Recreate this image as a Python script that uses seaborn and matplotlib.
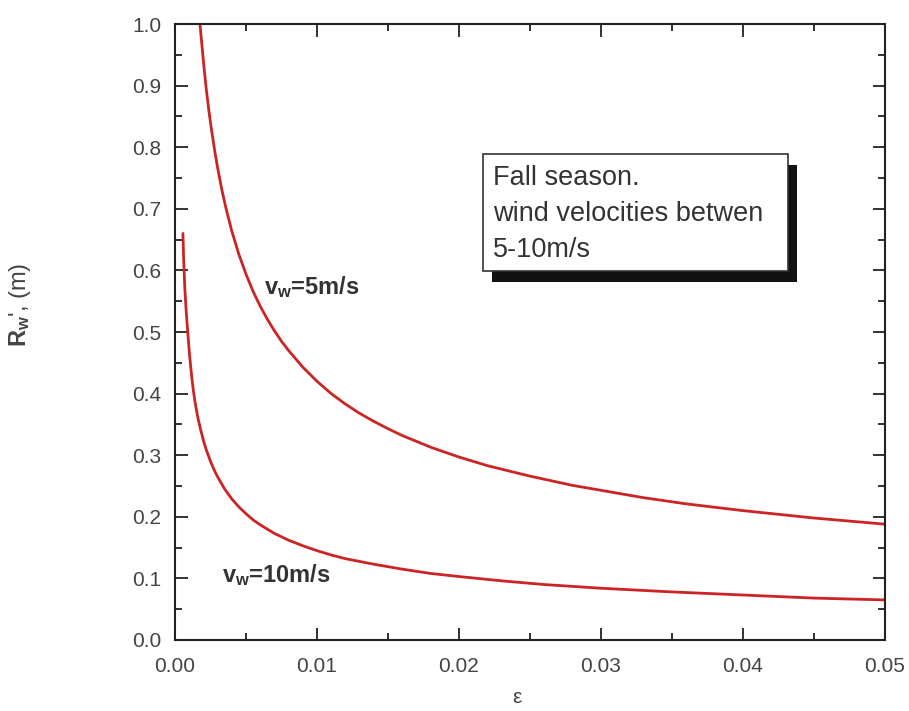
import numpy as np
import pandas as pd
import matplotlib.pyplot as plt
import matplotlib.patches as patches
from matplotlib.ticker import MultipleLocator, FormatStrFormatter
import seaborn as sns

# values
eps_5 = [0.00176, 0.0019, 0.002, 0.0022, 0.0024, 0.0026, 0.0028, 0.003, 0.0033,
         0.0036, 0.004, 0.0045, 0.005, 0.0055, 0.006, 0.0065, 0.007, 0.0075,
         0.008, 0.009, 0.01, 0.011, 0.012, 0.013, 0.014, 0.015, 0.016, 0.018,
         0.02, 0.022, 0.025, 0.028, 0.03, 0.033, 0.036, 0.04, 0.045, 0.05]
r_5 = [1.0, 0.965, 0.94, 0.895, 0.857, 0.824, 0.794, 0.767, 0.731,
       0.70, 0.664, 0.626, 0.594, 0.566, 0.542, 0.521, 0.502, 0.485,
       0.47, 0.443, 0.42, 0.40, 0.383, 0.368, 0.355, 0.343, 0.332, 0.313,
       0.297, 0.283, 0.266, 0.251, 0.243, 0.231, 0.221, 0.21, 0.198, 0.188]

eps_10 = [0.00056, 0.0006, 0.00065, 0.0007, 0.0008, 0.0009, 0.001, 0.0011,
          0.0012, 0.0013, 0.0014, 0.0016, 0.0018, 0.002, 0.0022, 0.0025,
          0.0028, 0.003, 0.0035, 0.004, 0.0045, 0.005, 0.0055, 0.006, 0.007,
          0.008, 0.009, 0.01, 0.011, 0.012, 0.014, 0.016, 0.018, 0.02, 0.023,
          0.026, 0.03, 0.035, 0.04, 0.045, 0.05]
r_10 = [0.66, 0.625, 0.595, 0.568, 0.53, 0.50, 0.47, 0.445,
        0.423, 0.404, 0.388, 0.362, 0.342, 0.324, 0.309, 0.29,
        0.274, 0.265, 0.245, 0.229, 0.216, 0.205, 0.195, 0.187, 0.173,
        0.162, 0.153, 0.145, 0.138, 0.132, 0.123, 0.115, 0.108, 0.103, 0.096,
        0.09, 0.084, 0.078, 0.073, 0.068, 0.065]

box_lines = ['Fall season.', 'wind velocities betwen', '5-10m/s']

sns.set_style('ticks')
plt.rcParams['font.family'] = ['Liberation Sans', 'DejaVu Sans']
plt.rcParams['mathtext.fontset'] = 'custom'
plt.rcParams['mathtext.rm'] = 'Liberation Sans'
plt.rcParams['mathtext.bf'] = 'Liberation Sans:bold'

df = pd.concat([
    pd.DataFrame({'eps': eps_5, 'R': r_5, 'v': '5'}),
    pd.DataFrame({'eps': eps_10, 'R': r_10, 'v': '10'}),
])

fig = plt.figure(figsize=(9.09, 7.11), dpi=100)
ax = fig.add_axes([0.1925, 0.0999, 0.781, 0.8663])

sns.lineplot(data=df, x='eps', y='R', units='v', estimator=None,
             color='#cc2424', linewidth=2.0, ax=ax, legend=False)

ax.set_xlim(0, 0.05)
ax.set_ylim(0, 1.0)
ax.xaxis.set_major_locator(MultipleLocator(0.01))
ax.xaxis.set_minor_locator(MultipleLocator(0.005))
ax.yaxis.set_major_locator(MultipleLocator(0.1))
ax.yaxis.set_minor_locator(MultipleLocator(0.05))
ax.xaxis.set_major_formatter(FormatStrFormatter('%.2f'))
ax.yaxis.set_major_formatter(FormatStrFormatter('%.1f'))
ax.tick_params(which='both', direction='in', top=True, right=True,
               width=1.3, colors='#222222', labelcolor='#444444', labelsize=15)
ax.tick_params(which='major', length=9)
ax.tick_params(axis='x', which='major', pad=12)
ax.tick_params(axis='y', which='major', pad=10)
ax.tick_params(which='minor', length=5)
for s in ax.spines.values():
    s.set_linewidth(1.5)
    s.set_color('#222222')

ax.set_xlabel('ε', fontsize=15, color='#444444')
ax.xaxis.set_label_coords(0.482, -0.078)
ax.set_ylabel(r"$\mathbf{R_w}$', (m)", fontsize=17, color='#444444')
ax.yaxis.set_label_coords(-0.2, 0.545)

ax.text(0.0063, 0.573, r'$\mathbf{v_w}$=5m/s', fontsize=17, fontweight='bold',
        color='#333333', va='center')
ax.text(0.0033, 0.105, r'$\mathbf{v_w}$=10m/s', fontsize=17, fontweight='bold',
        color='#333333', va='center')

# boxed note with a drop shadow
bx0, by0, bw, bh = 0.434, 0.599, 0.429, 0.190
ax.add_patch(patches.Rectangle((bx0 + 0.013, by0 - 0.018), bw, bh,
                               transform=ax.transAxes, facecolor='#111111',
                               edgecolor='none', zorder=4))
ax.add_patch(patches.Rectangle((bx0, by0), bw, bh, transform=ax.transAxes,
                               facecolor='white', edgecolor='#333333',
                               linewidth=1.2, zorder=5))
ax.text(bx0 + 0.014, 0.771, '\n'.join(box_lines),
        transform=ax.transAxes, fontsize=19.5, color='#333333',
        va='top', ha='left', linespacing=1.5, zorder=6)

fig.savefig('out.png', dpi=100)
